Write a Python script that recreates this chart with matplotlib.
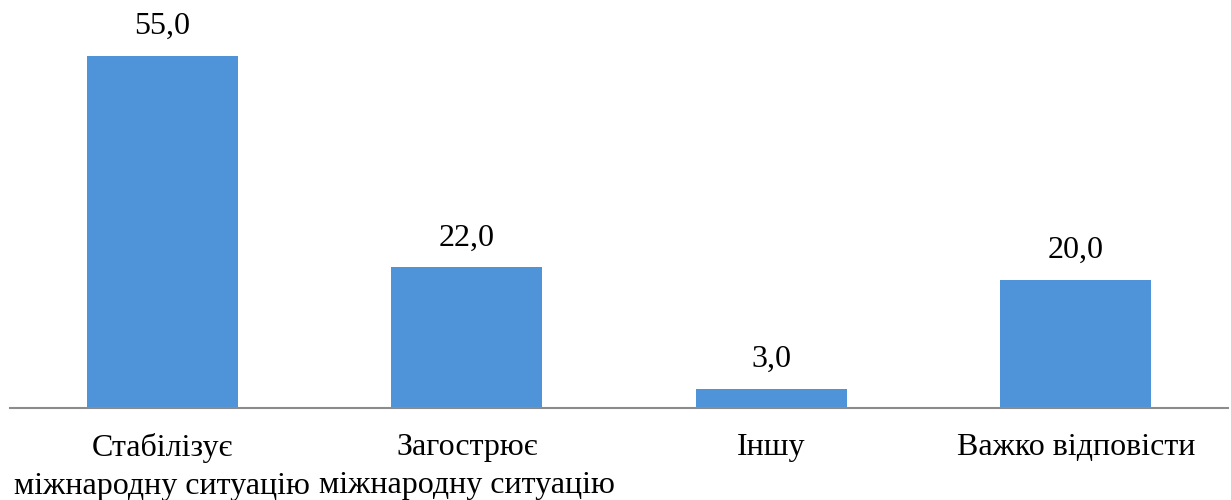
import matplotlib
matplotlib.use('Agg')
import matplotlib.pyplot as plt

# Data
categories = ['Стабілізує\nміжнародну ситуацію', 'Загострює\nміжнародну ситуацію',
              'Іншу', 'Важко відповісти']
values = [55.0, 22.0, 3.0, 20.0]

plt.rcParams['font.family'] = ['Liberation Serif', 'DejaVu Serif']

fig = plt.figure(figsize=(12.31, 5), dpi=100)
ax = fig.add_axes([10 / 1231, 1 - 408 / 500, 1218 / 1231, 408 / 500])

x = range(len(categories))
bars = ax.bar(x, values, width=0.495, color='#4F94D9')

for b, v in zip(bars, values):
    ax.text(b.get_x() + b.get_width() / 2, v + 2.3, f'{v:.1f}'.replace('.', ','),
            ha='center', va='bottom', fontsize=23)

ax.set_xlim(-0.5, 3.5)
ax.set_ylim(0, 63.75)
ax.set_xticks(list(x))
ax.set_xticklabels(categories, fontsize=23, linespacing=1.4)
ax.tick_params(axis='x', length=0, pad=18)
ax.set_yticks([])

for side in ['top', 'right', 'left']:
    ax.spines[side].set_visible(False)
ax.spines['bottom'].set_color('#8C8C8C')
ax.spines['bottom'].set_linewidth(1.5)

fig.savefig('out.png', dpi=100)
